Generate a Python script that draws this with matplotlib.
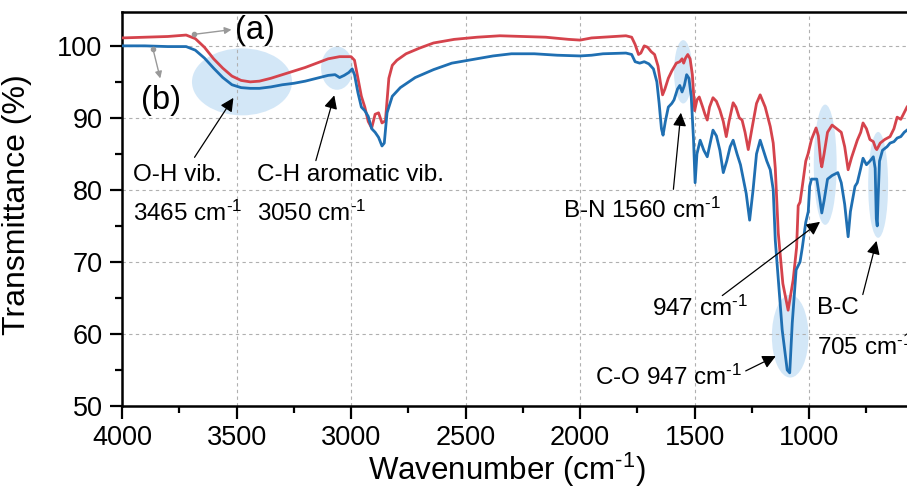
import matplotlib
matplotlib.use("Agg")
import matplotlib.pyplot as plt
from matplotlib.patches import Ellipse
from matplotlib.ticker import MultipleLocator
import numpy as np

plt.rcParams['font.family'] = ['Liberation Sans', 'DejaVu Sans']
plt.rcParams['mathtext.default'] = 'regular'

# spectrum (a) - red
wn_a = [4000, 3900, 3800, 3720, 3680, 3640, 3600, 3560, 3520, 3480, 3440, 3400, 3350, 3300,
        3250, 3200, 3150, 3100, 3050, 3000, 2985, 2970, 2955, 2940, 2925, 2910, 2895, 2880,
        2865, 2850, 2835, 2820, 2800, 2760, 2700, 2640, 2550, 2450, 2350, 2250, 2150, 2050,
        2000, 1950, 1900, 1800, 1775, 1760, 1745, 1735, 1720, 1705, 1690, 1675, 1660, 1650,
        1640, 1630, 1615, 1600, 1580, 1565, 1555, 1548, 1540, 1530, 1520, 1510, 1500, 1490,
        1480, 1465, 1455, 1445, 1435, 1420, 1405, 1390, 1375, 1362, 1350, 1332, 1320, 1305,
        1293, 1280, 1266, 1250, 1230, 1214, 1192, 1170, 1157, 1148, 1135, 1115, 1092, 1070,
        1055, 1048, 1040, 1030, 1015, 1005, 990, 970, 960, 950, 945, 935, 920, 900, 880,
        860, 845, 830, 815, 790, 775, 765, 750, 735, 720, 710, 705, 698, 690, 670, 647, 630,
        616, 600, 573]
t_a = [101.1, 101.2, 101.3, 101.5, 101.0, 99.8, 98.2, 96.9, 95.8, 95.2, 95.0, 95.1, 95.5, 96.0,
       96.5, 97.0, 97.6, 98.2, 98.5, 98.5, 98.0, 95.5, 93.0, 91.5, 89.5, 88.6, 90.5, 90.7,
       89.3, 89.6, 95.5, 97.3, 98.0, 98.9, 99.7, 100.4, 100.9, 101.2, 101.4, 101.3, 101.2, 100.9,
       100.8, 101.1, 101.2, 101.4, 101.2, 100.2, 98.8, 99.0, 100.0, 99.8, 99.2, 98.8, 97.2, 95.0,
       93.2, 94.0, 95.5, 96.5, 97.6, 97.8, 98.2, 97.6, 98.3, 98.8, 98.2, 96.0, 91.0, 92.5,
       92.9, 91.5, 90.5, 89.7, 91.5, 92.8, 92.3, 91.1, 89.5, 87.4, 89.5, 92.1, 91.5, 90.0,
       89.7, 88.0, 85.6, 88.5, 92.0, 93.2, 91.5, 88.8, 86.5, 83.0, 74.0, 67.0, 63.3, 67.5,
       72.0, 77.8, 78.3, 80.5, 84.0, 85.0, 87.0, 88.6, 87.5, 84.0, 83.2, 85.0, 88.0, 89.0, 88.5,
       88.0, 86.0, 82.8, 84.5, 86.9, 88.0, 89.3, 88.5, 87.0, 86.7, 85.8, 85.6, 86.0, 86.5, 87.0,
       87.4, 88.5, 90.1, 89.8, 91.5]

# spectrum (b) - blue
wn_b = [4000, 3900, 3800, 3720, 3680, 3640, 3600, 3560, 3520, 3480, 3440, 3400, 3350, 3300,
        3250, 3200, 3150, 3100, 3070, 3050, 3030, 3010, 2995, 2985, 2970, 2955, 2940, 2925,
        2910, 2895, 2880, 2865, 2855, 2843, 2820, 2785, 2720, 2640, 2560, 2470, 2380, 2300,
        2200, 2100, 2000, 1950, 1900, 1800, 1775, 1760, 1740, 1720, 1700, 1680, 1665, 1655,
        1645, 1638, 1628, 1615, 1600, 1590, 1575, 1565, 1555, 1545, 1535, 1525, 1515, 1505,
        1498, 1490, 1476, 1460, 1445, 1432, 1420, 1405, 1390, 1375, 1360, 1345, 1332, 1315,
        1300, 1293, 1275, 1260, 1245, 1230, 1214, 1200, 1185, 1170, 1157, 1148, 1118, 1096,
        1085, 1074, 1057, 1048, 1040, 1030, 1015, 1004, 998, 990, 967, 955, 945, 935, 920,
        900, 875, 860, 845, 830, 820, 800, 790, 775, 765, 750, 735, 720, 712, 707, 703, 699,
        693, 680, 660, 647, 630, 616, 600, 585, 573]
t_b = [100.0, 100.0, 99.9, 99.9, 99.4, 98.3, 96.9, 95.6, 94.6, 94.2, 94.1, 94.1, 94.3, 94.6,
       94.8, 95.1, 95.5, 95.9, 96.0, 95.6, 95.9, 96.3, 96.8, 96.0, 93.5, 91.5, 91.0, 90.2,
       88.5, 88.0, 87.3, 86.1, 86.5, 90.7, 93.0, 94.2, 95.6, 96.7, 97.6, 98.1, 98.6, 98.9,
       98.9, 98.7, 98.6, 98.7, 98.9, 99.0, 98.8, 97.8, 97.6, 97.8, 97.5, 96.8, 95.0, 92.0,
       88.5, 87.6, 89.5, 91.5, 92.0, 92.5, 94.0, 94.5, 93.6, 94.5, 96.0, 95.5, 93.0, 87.0,
       81.0, 85.0, 86.9, 85.5, 84.6, 86.5, 88.3, 87.5, 85.5, 82.4, 84.0, 86.0, 86.9, 85.0,
       83.5, 82.4, 79.5, 75.8, 80.0, 85.0, 86.9, 85.5, 84.0, 82.8, 80.0, 73.0, 60.6, 55.0,
       54.6, 61.5, 68.9, 69.5, 70.0, 72.0, 75.5, 77.0, 80.5, 81.5, 81.5, 79.0, 76.8, 78.5, 81.5,
       82.0, 82.4, 81.0, 78.0, 73.5, 77.0, 80.5, 81.0, 83.0, 84.4, 83.5, 84.0, 84.6, 83.0, 76.0,
       75.0, 79.0, 84.0, 85.5, 86.0, 86.5, 86.7, 87.2, 87.4, 88.0, 88.3]

red = '#d5434c'
blue = '#1f6fb2'
shade = '#cfe5f7'
inv = '$^{\u2010' + '1}$'  # superscript "-1" drawn with a plain hyphen

fig = plt.figure(figsize=(9.07, 4.88), dpi=100)
ax = fig.add_axes([122 / 907, 82 / 488, 785 / 907, 394 / 488])

# highlighted regions
for cx, cy, w, h in [(3476, 95.0, 437, 9.3), (3061, 96.9, 140, 6.0), (1550, 96.4, 80, 8.8),
                     (930, 83.5, 100, 16.7), (699, 80.7, 87, 14.7), (1083, 59.7, 160, 11.5)]:
    ax.add_patch(Ellipse((cx, cy), w, h, facecolor=shade, edgecolor='none', alpha=0.9, zorder=1))

ax.plot(wn_a, t_a, color=red, lw=2.0, zorder=3)
ax.plot(wn_b, t_b, color=blue, lw=2.0, zorder=3)

ax.set_xlim(4000, 573)
ax.set_ylim(50, 104.7)
ax.spines['right'].set_visible(False)
ax.xaxis.set_major_locator(MultipleLocator(500))
ax.xaxis.set_minor_locator(MultipleLocator(250))
ax.yaxis.set_major_locator(MultipleLocator(10))
ax.yaxis.set_minor_locator(MultipleLocator(5))
ax.grid(True, which='major', color='#b0b0b0', ls=(0, (3, 3)), lw=0.8, zorder=0)
ax.tick_params(which='major', direction='out', length=9, width=1.6, labelsize=19.5, pad=5)
ax.tick_params(which='minor', direction='out', length=5, width=1.6)
for s in ax.spines.values():
    s.set_linewidth(1.8)

ax.set_xlabel('Wavenumber (cm' + inv + ')', fontsize=22.5)
ax.set_ylabel('Transmittance (%)', fontsize=23)
ax.xaxis.set_label_coords(0.49, -0.114)
ax.yaxis.set_label_coords(-0.115, 0.51)

# sample labels
ax.plot([3685, 3865], [101.6, 99.6], 'o', color='#999999', ms=3, zorder=4)
ax.annotate('', xy=(3510, 102.3), xytext=(3685, 101.6),
            arrowprops=dict(arrowstyle='-|>', color='#999999', lw=1, mutation_scale=10))
ax.annotate('', xy=(3830, 95.1), xytext=(3865, 99.6),
            arrowprops=dict(arrowstyle='-|>', color='#999999', lw=1, mutation_scale=10))
ax.text(3420, 102.2, '(a)', fontsize=23.5, ha='center', va='center')
ax.text(3830, 92.4, '(b)', fontsize=23.5, ha='center', va='center')

# band annotations
fs = 17.5
arrow = dict(arrowstyle='-|>', color='k', lw=0.9, mutation_scale=20)
ax.text(3952, 82.1, 'O-H vib.', fontsize=fs, va='center')
ax.text(3952, 76.8, '3465 cm' + inv, fontsize=fs, va='center')
ax.annotate('', xy=(3507, 93.1), xytext=(3690, 84.2), arrowprops=arrow)

ax.text(3411, 82.1, 'C-H aromatic vib.', fontsize=fs, va='center')
ax.text(3411, 76.8, '3050 cm' + inv, fontsize=fs, va='center')
ax.annotate('', xy=(3070, 93.5), xytext=(3157, 83.7), arrowprops=arrow)

ax.text(2074, 77.2, 'B-N 1560 cm' + inv, fontsize=fs, va='center')
ax.annotate('', xy=(1559, 91.1), xytext=(1594, 79.7), arrowprops=arrow)

ax.text(1686, 63.6, '947 cm' + inv, fontsize=fs, va='center')
ax.annotate('', xy=(943, 75.8), xytext=(1389, 65.1), arrowprops=arrow)

ax.text(965, 63.6, 'B-C', fontsize=fs, va='center')
ax.text(965, 58.2, '705 cm' + inv, fontsize=fs, va='center')
ax.annotate('', xy=(703, 73.3), xytext=(769, 65.1), arrowprops=arrow)

ax.text(1934, 54.0, 'C-O 947 cm' + inv, fontsize=fs, va='center')
ax.annotate('', xy=(1135, 57.1), xytext=(1288, 54.7), arrowprops=arrow)

fig.savefig('out.png', dpi=100)
